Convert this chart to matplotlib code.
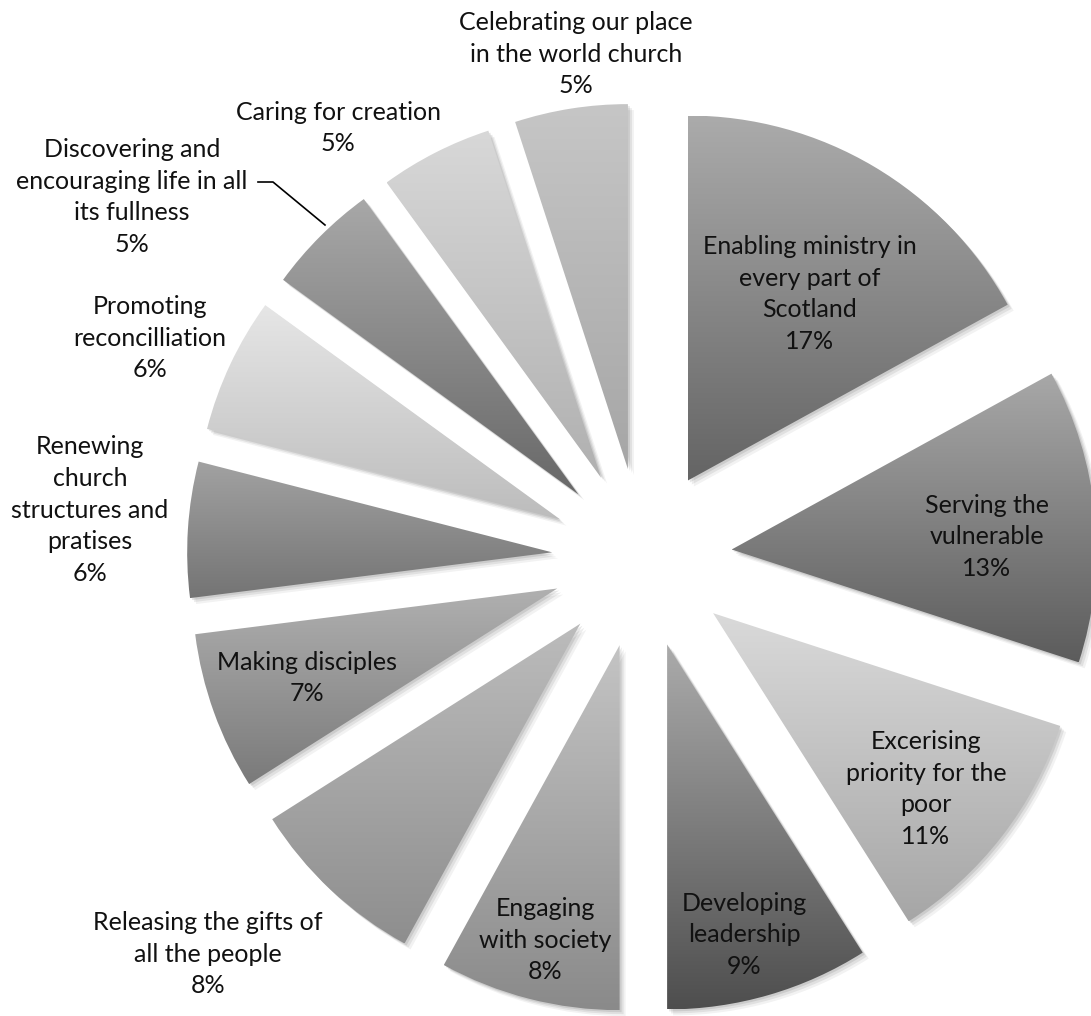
import numpy as np
import matplotlib
matplotlib.use("Agg")
from matplotlib import pyplot as plt

# slice data, clockwise from 12 o'clock
names = ['Enabling ministry in\nevery part of\nScotland',
         'Serving the\nvulnerable',
         'Excerising\npriority for the\npoor',
         'Developing\nleadership',
         'Engaging\nwith society',
         'Releasing the gifts of\nall the people',
         'Making disciples',
         'Renewing\nchurch\nstructures and\npratises',
         'Promoting\nreconcilliation',
         'Discovering and\nencouraging life in all\nits fullness',
         'Caring for creation',
         'Celebrating our place\nin the world church']
shares = [17, 13, 11, 9, 8, 8, 7, 6, 6, 5, 5, 5]

# grey gradient per slice (top, bottom)
tops = ['#ababab', '#a8a8a8', '#dadada', '#ababab', '#c4c4c4', '#bcbcbc',
        '#b0b0b0', '#a2a2a2', '#e6e6e6', '#a8a8a8', '#d8d8d8', '#c6c6c6']
bottoms = ['#646464', '#5c5c5c', '#a6a6a6', '#4e4e4e', '#8a8a8a', '#8e8e8e',
           '#7a7a7a', '#747474', '#bcbcbc', '#686868', '#b0b0b0', '#a6a6a6']

# label centres in pixels (x, y from top)
label_pos = [(810, 294), (987, 537), (926, 789), (744, 935), (545, 940),
             (208, 954), (307, 678), (90, 510), (150, 338), (132, 197),
             (338, 128), (576, 54)]

W, H = 1091, 1016
cx, cy = 642, H - 558
R = 365
EXPL = 90

fig = plt.figure(figsize=(W / 100, H / 100), dpi=100)
ax = fig.add_axes([0, 0, 1, 1])

# soft shadow
for k, a in [(6, 0.05), (4, 0.07), (2, 0.09)]:
    sw, _ = ax.pie(shares, radius=R, center=(cx + k, cy - k), startangle=90,
                   counterclock=False, explode=[EXPL] * len(shares),
                   frame=True, wedgeprops=dict(facecolor='black', alpha=a, linewidth=0))

wedges, _ = ax.pie(shares, radius=R, center=(cx, cy), startangle=90,
                   counterclock=False, explode=[EXPL] * len(shares),
                   frame=True, wedgeprops=dict(facecolor='none', linewidth=0))

grad = np.linspace(0, 1, 256).reshape(-1, 1)
for w, t, b in zip(wedges, tops, bottoms):
    ext = w.get_path().get_extents()
    c0 = np.array(matplotlib.colors.to_rgb(t))
    c1 = np.array(matplotlib.colors.to_rgb(b))
    img = c1[None, None, :] * (1 - grad[:, :, None]) + c0[None, None, :] * grad[:, :, None]
    im = ax.imshow(img, extent=[ext.x0, ext.x1, ext.y0, ext.y1], origin='lower',
                   aspect='auto', interpolation='bilinear', zorder=2)
    im.set_clip_path(w)

font = ['Lato', 'DejaVu Sans']
for name, s, (lx, ly) in zip(names, shares, label_pos):
    ax.text(lx, H - ly, f'{name}\n{s}%', ha='center', va='center', fontsize=18,
            family=font, linespacing=1.47, color='#111111', zorder=5)

# leader line for the "Discovering" label
ax.plot([258, 273, 325], [H - 182, H - 182, H - 225], color='black', lw=1.2, zorder=4)

ax.set_xlim(0, W)
ax.set_ylim(0, H)
ax.set_aspect('auto')
ax.axis('off')

fig.savefig('out.png', dpi=100, facecolor='white')
